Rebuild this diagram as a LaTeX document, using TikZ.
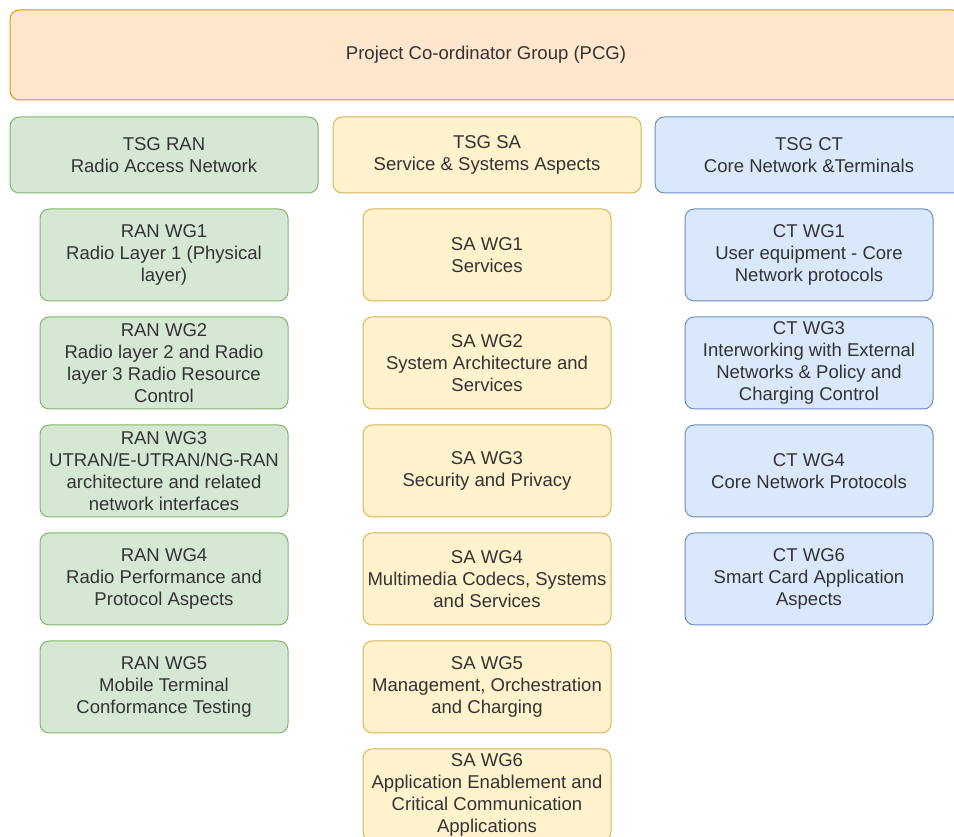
\documentclass[tikz,border=0pt]{standalone}
\usepackage{fontspec}
\setmainfont{Liberation Sans}
\usetikzlibrary{positioning}
\definecolor{txtgray}{HTML}{333333}
\definecolor{pcgfill}{HTML}{FFE6CC}\definecolor{pcgline}{HTML}{D79B00}
\definecolor{ranfill}{HTML}{D5E8D4}\definecolor{ranline}{HTML}{82B366}
\definecolor{safill}{HTML}{FFF2CC}\definecolor{saline}{HTML}{D6B656}
\definecolor{ctfill}{HTML}{DAE8FC}\definecolor{ctline}{HTML}{6C8EBF}
\tikzset{
  box/.style={rounded corners=7pt, line width=0.75pt, align=center, inner sep=0pt,
    outer sep=0pt, text=txtgray, font=\fontsize{13.9}{16.6}\selectfont},
  tsgbox/.style={box, minimum width=231pt, minimum height=57pt},
  wgbox/.style={box, minimum width=186pt, minimum height=69pt},
  ran/.style={fill=ranfill, draw=ranline},
  sa/.style={fill=safill, draw=saline},
  ct/.style={fill=ctfill, draw=ctline},
}

\begin{document}
\begin{tikzpicture}[x=0.75pt, y=-0.75pt, node distance=12pt]
\useasboundingbox (0,0) rectangle (954,837);
\clip (0,0) rectangle (954,837);
\node (PCG) [box, fill=pcgfill, draw=pcgline, minimum width=714pt, minimum height=67.5pt] at (486,55) {Project Co-ordinator Group (PCG)};
\node (TSGRAN) [tsgbox, ran] at (164,155) {TSG RAN\\Radio Access Network};
\node (TSGSA) [tsgbox, sa] at (487,155) {TSG SA\\Service \& Systems Aspects};
\node (TSGCT) [tsgbox, ct] at (809,155) {TSG CT\\Core Network \&Terminals};
% RAN working groups
\node (RAN1) [wgbox, ran, below=of TSGRAN] {RAN WG1\\Radio Layer 1 (Physical\\layer)};
\node (RAN2) [wgbox, ran, below=of RAN1] {RAN WG2\\Radio layer 2 and Radio\\layer 3 Radio Resource\\Control};
\node (RAN3) [wgbox, ran, below=of RAN2] {RAN WG3\\UTRAN/E-UTRAN/NG-RAN\\architecture and related\\network interfaces};
\node (RAN4) [wgbox, ran, below=of RAN3] {RAN WG4\\Radio Performance and\\Protocol Aspects};
\node (RAN5) [wgbox, ran, below=of RAN4] {RAN WG5\\Mobile Terminal\\Conformance Testing};
% SA working groups
\node (SA1) [wgbox, sa, below=of TSGSA] {SA WG1\\Services};
\node (SA2) [wgbox, sa, below=of SA1] {SA WG2\\System Architecture and\\Services};
\node (SA3) [wgbox, sa, below=of SA2] {SA WG3\\Security and Privacy};
\node (SA4) [wgbox, sa, below=of SA3] {SA WG4\\Multimedia Codecs, Systems\\and Services};
\node (SA5) [wgbox, sa, below=of SA4] {SA WG5\\Management, Orchestration\\and Charging};
\node (SA6) [wgbox, sa, below=of SA5] {SA WG6\\Application Enablement and\\Critical Communication\\Applications};
% CT working groups
\node (CT1) [wgbox, ct, below=of TSGCT] {CT WG1\\User equipment - Core\\Network protocols};
\node (CT3) [wgbox, ct, below=of CT1] {CT WG3\\Interworking with External\\Networks \& Policy and\\Charging Control};
\node (CT4) [wgbox, ct, below=of CT3] {CT WG4\\Core Network Protocols};
\node (CT6) [wgbox, ct, below=of CT4] {CT WG6\\Smart Card Application\\Aspects};
\end{tikzpicture}
\end{document}
